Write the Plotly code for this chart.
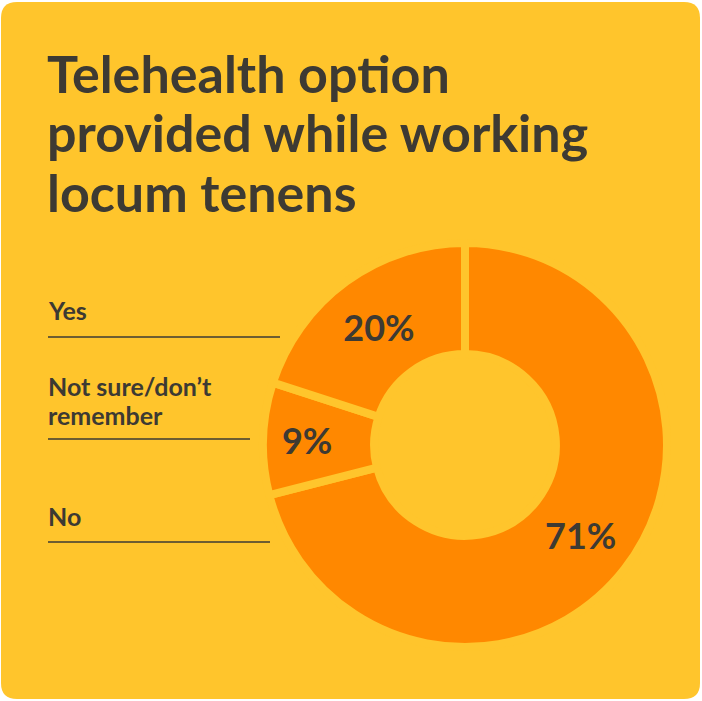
import plotly.graph_objects as go

# ---- data ----
categories = ["No", "Not sure/don’t remember", "Yes"]
values = [71, 9, 20]
pct_labels = ["71%", "9%", "20%"]
title_lines = ["Telehealth option", "provided while working", "locum tenens"]
legend_lines = [["Yes"], ["Not sure/don’t", "remember"], ["No"]]

W, H = 702, 701
BG = "#FFC52C"
ORANGE = "#FF8800"
TXT = "#3D3A33"
FONT = "Lato"


def px(x):
    return x / W


def py(y):
    return 1 - y / H


fig = go.Figure()
fig.add_trace(go.Pie(
    labels=categories,
    values=values,
    text=pct_labels,
    textinfo="text",
    textposition="inside",
    insidetextorientation="horizontal",
    sort=False,
    direction="clockwise",
    rotation=0,
    hole=0.45,
    marker=dict(colors=[ORANGE] * 3, line=dict(color=BG, width=8)),
    textfont=dict(family=FONT, size=36, color=TXT, weight=700),
    domain=dict(x=[px(263), px(667)], y=[py(647), py(243)]),
    showlegend=False,
    hoverinfo="label+percent",
))

shapes = []
# card background with rounded corners
x0, x1, y0, y1, r = px(1), px(700), py(699), py(2), 16
rx, ry = r / W, r / H
path = (f"M {x0+rx},{y0} L {x1-rx},{y0} Q {x1},{y0} {x1},{y0+ry} "
        f"L {x1},{y1-ry} Q {x1},{y1} {x1-rx},{y1} L {x0+rx},{y1} "
        f"Q {x0},{y1} {x0},{y1-ry} L {x0},{y0+ry} Q {x0},{y0} {x0+rx},{y0} Z")
shapes.append(dict(type="path", xref="paper", yref="paper", path=path,
                   fillcolor=BG, line=dict(width=0), layer="below"))

# underline rules for labels
rules = [(48, 280, 337), (48, 250, 439), (48, 270, 542)]
for xa, xb, yy in rules:
    shapes.append(dict(type="line", xref="paper", yref="paper",
                       x0=px(xa), x1=px(xb), y0=py(yy), y1=py(yy),
                       line=dict(color=TXT, width=1.5)))

annotations = []
for line, yc in zip(title_lines, [73, 132, 192]):
    annotations.append(dict(text=line, xref="paper", yref="paper", x=px(45), y=py(yc),
                            xanchor="left", yanchor="middle", showarrow=False,
                            font=dict(family=FONT, size=52, color=TXT, weight=700)))

flat_labels = [l for group in legend_lines for l in group]
for line, yc in zip(flat_labels, [310, 386, 415, 516]):
    annotations.append(dict(text=line, xref="paper", yref="paper", x=px(46), y=py(yc),
                            xanchor="left", yanchor="middle", showarrow=False,
                            font=dict(family=FONT, size=25, color=TXT, weight=700)))

fig.update_layout(
    width=W, height=H,
    margin=dict(l=0, r=0, t=0, b=0),
    paper_bgcolor="white",
    plot_bgcolor="white",
    shapes=shapes,
    annotations=annotations,
)

fig.write_html("out.html",
               config={"displayModeBar": False},
               post_script="document.body.style.margin='0';document.body.style.overflow='hidden';")
